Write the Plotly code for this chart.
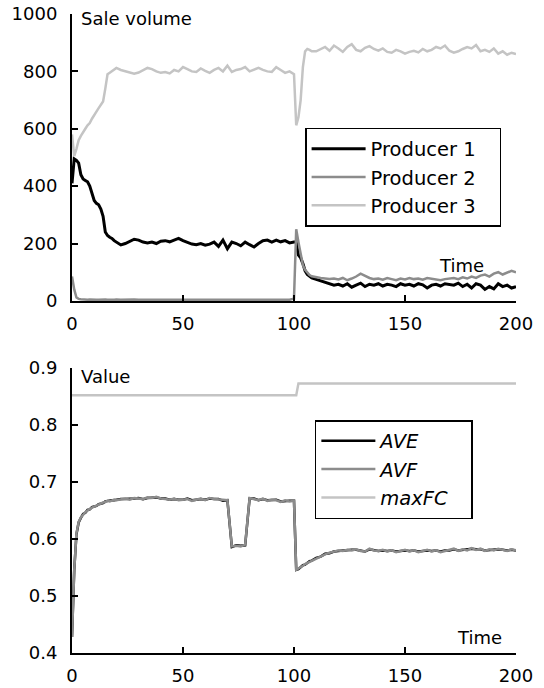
import plotly.graph_objects as go

# ---------------- data ----------------
time = [0, 1, 2, 3, 4, 5, 6, 7, 8, 9, 10, 11, 12, 13, 14, 15, 16, 17, 18, 19, 20,
        22, 24, 26, 28, 30, 32, 34, 36, 38, 40, 42, 44, 46, 48, 50, 52, 54, 56, 58, 60,
        62, 64, 66, 68, 70, 72, 74, 76, 78, 80, 82, 84, 86, 88, 90, 92, 94, 96, 98, 100,
        101, 102, 103, 104, 105, 106, 107, 108,
        110, 112, 114, 116, 118, 120, 122, 124, 126, 128, 130, 132, 134, 136, 138, 140,
        142, 144, 146, 148, 150, 152, 154, 156, 158, 160, 162, 164, 166, 168, 170, 172,
        174, 176, 178, 180, 182, 184, 186, 188, 190, 192, 194, 196, 198, 200]

producer1 = [410, 495, 490, 480, 440, 425, 420, 415, 400, 370, 350, 340, 335, 320, 295, 240, 228, 222, 218, 210, 205,
             195, 200, 208, 215, 212, 205, 202, 205, 200, 208, 210, 206, 212, 218, 210, 205, 198, 196, 200, 194,
             198, 205, 190, 212, 182, 205, 200, 192, 205, 196, 188, 200, 210, 212, 205, 212, 206, 210, 202, 205,
             205, 160, 150, 130, 105, 92, 85, 80,
             75, 70, 65, 60, 55, 58, 52, 60, 48, 55, 62, 50, 58, 55, 60, 52, 58, 55, 50, 60,
             55, 58, 52, 60, 56, 45, 55, 58, 52, 60, 57, 55, 62, 50, 58, 45, 60, 55, 40, 50,
             42, 60, 50, 55, 45, 50]

producer2 = [85, 40, 12, 7, 6, 5, 5, 4, 5, 4, 5, 4, 4, 5, 4, 5, 4, 5, 4, 4, 5,
             4, 5, 4, 5, 4, 4, 5, 4, 5, 4, 5, 4, 4, 5, 5, 4, 6, 4, 5, 4,
             4, 5, 4, 5, 4, 4, 5, 4, 5, 4, 5, 4, 5, 4, 5, 4, 4, 5, 4, 8,
             250, 205, 160, 125, 108, 98, 90, 86,
             82, 80, 78, 76, 78, 75, 80, 72, 78, 85, 95, 88, 80, 76, 78, 74, 80, 76, 72, 78,
             75, 80, 76, 78, 74, 80, 78, 75, 72, 76, 78, 80, 76, 82, 78, 85, 80, 88, 92, 85,
             95, 100, 92, 98, 105, 100]

producer3 = [580, 505, 530, 560, 575, 590, 600, 612, 620, 635, 650, 660, 672, 685, 695, 740, 790, 795, 800, 805, 812,
             805, 800, 795, 792, 796, 805, 812, 808, 800, 795, 798, 793, 805, 800, 815, 808, 800, 798, 810, 802,
             795, 805, 812, 800, 820, 798, 805, 808, 815, 800, 805, 812, 805, 800, 798, 815, 805, 795, 800, 790,
             612, 640, 700, 815, 870, 878, 875, 870,
             870, 878, 885, 872, 890, 880, 868, 885, 895, 875, 870, 882, 888, 878, 872, 880, 868, 865, 875, 870,
             862, 868, 872, 866, 878, 870, 875, 885, 880, 890, 872, 865, 870, 878, 885, 880, 892, 870, 875, 868,
             880, 862, 870, 858, 865, 860]

ave = [0.428, 0.545, 0.608, 0.629, 0.637, 0.644, 0.646, 0.651, 0.652, 0.656, 0.657, 0.658, 0.661, 0.662, 0.663, 0.666, 0.667, 0.667, 0.668, 0.668, 0.669,
       0.670, 0.670, 0.670, 0.671, 0.672, 0.670, 0.672, 0.672, 0.673, 0.671, 0.671, 0.669, 0.670, 0.669, 0.669, 0.671, 0.668, 0.669, 0.670, 0.669,
       0.671, 0.670, 0.670, 0.667, 0.668, 0.586, 0.589, 0.588, 0.589, 0.671, 0.671, 0.668, 0.670, 0.668, 0.669, 0.669, 0.666, 0.667, 0.667, 0.667,
       0.546, 0.547, 0.551, 0.554, 0.555, 0.558, 0.561, 0.562,
       0.567, 0.569, 0.574, 0.575, 0.578, 0.579, 0.580, 0.580, 0.581, 0.581, 0.580, 0.578, 0.582, 0.581, 0.579, 0.580, 0.579, 0.580, 0.578, 0.579,
       0.580, 0.579, 0.580, 0.578, 0.579, 0.580, 0.579, 0.580, 0.578, 0.580, 0.580, 0.582, 0.580, 0.581, 0.581, 0.583, 0.582, 0.582, 0.580, 0.581,
       0.581, 0.582, 0.581, 0.580, 0.581, 0.580]

avf = [0.428, 0.545, 0.610, 0.630, 0.638, 0.643, 0.647, 0.650, 0.653, 0.655, 0.657, 0.659, 0.660, 0.662, 0.664, 0.665, 0.667, 0.666, 0.668, 0.669, 0.668,
       0.670, 0.671, 0.669, 0.672, 0.671, 0.670, 0.673, 0.672, 0.674, 0.671, 0.670, 0.669, 0.671, 0.668, 0.669, 0.670, 0.667, 0.669, 0.671, 0.668,
       0.672, 0.670, 0.669, 0.668, 0.668, 0.587, 0.588, 0.587, 0.590, 0.672, 0.670, 0.668, 0.671, 0.667, 0.669, 0.668, 0.665, 0.668, 0.666, 0.667,
       0.546, 0.548, 0.551, 0.553, 0.556, 0.558, 0.560, 0.562,
       0.566, 0.570, 0.573, 0.576, 0.578, 0.580, 0.579, 0.581, 0.580, 0.582, 0.579, 0.578, 0.583, 0.580, 0.579, 0.581, 0.578, 0.580, 0.577, 0.579,
       0.581, 0.578, 0.580, 0.577, 0.579, 0.581, 0.578, 0.580, 0.577, 0.579, 0.581, 0.583, 0.579, 0.582, 0.580, 0.584, 0.581, 0.583, 0.579, 0.582,
       0.580, 0.583, 0.581, 0.579, 0.582, 0.580]

maxfc_time = [0, 101, 102, 200]
maxfc = [0.852, 0.852, 0.873, 0.873]

x_ticks = [0, 50, 100, 150, 200]
top_ticks = [0, 200, 400, 600, 800, 1000]
bottom_ticks = [0.4, 0.5, 0.6, 0.7, 0.8, 0.9]

# ---------------- figure ----------------
FONT = "DejaVu Sans"
BLACK = "#000000"
DARK_GRAY = "#8c8c8c"
LIGHT_GRAY = "#c4c4c4"
PAD = "\u00a0\u00a0\u00a0"  # right padding inside legend boxes

fig = go.Figure()

fig.add_trace(go.Scatter(x=time, y=producer1, name="Producer 1" + PAD, mode="lines",
                         line=dict(color=BLACK, width=3), xaxis="x", yaxis="y",
                         legend="legend", legendgroup="p1"))
fig.add_trace(go.Scatter(x=time, y=producer2, name="Producer 2" + PAD, mode="lines",
                         line=dict(color=DARK_GRAY, width=2.5), xaxis="x", yaxis="y",
                         legend="legend", legendgroup="p2"))
fig.add_trace(go.Scatter(x=time, y=producer3, name="Producer 3" + PAD, mode="lines",
                         line=dict(color=LIGHT_GRAY, width=2.5), xaxis="x", yaxis="y",
                         legend="legend", legendgroup="p3"))

fig.add_trace(go.Scatter(x=time, y=ave, name="<i>AVE</i>", mode="lines",
                         line=dict(color=BLACK, width=2.5), xaxis="x2", yaxis="y2",
                         legend="legend2", legendgroup="ave"))
fig.add_trace(go.Scatter(x=time, y=avf, name="<i>AVF</i>", mode="lines",
                         line=dict(color=DARK_GRAY, width=2.5), xaxis="x2", yaxis="y2",
                         legend="legend2", legendgroup="avf"))
fig.add_trace(go.Scatter(x=maxfc_time, y=maxfc, name="<i>maxFC</i>" + PAD, mode="lines",
                         line=dict(color=LIGHT_GRAY, width=2.5), xaxis="x2", yaxis="y2",
                         legend="legend2", legendgroup="mfc"))

axis_common = dict(showgrid=False, zeroline=False, showline=True, linecolor=BLACK,
                   linewidth=2, ticks="inside", ticklen=6, tickwidth=1.5, tickcolor=BLACK,
                   automargin=False,
                   tickfont=dict(family=FONT, size=18, color=BLACK))

fig.update_layout(
    width=544, height=688,
    margin=dict(l=72, r=28, t=14, b=35),
    paper_bgcolor="white", plot_bgcolor="white",
    font=dict(family=FONT, size=18, color=BLACK),
    xaxis=dict(domain=[0, 1], anchor="y", range=[0, 200], tickvals=x_ticks,
               ticklabelstandoff=5, **axis_common),
    yaxis=dict(domain=[0.551, 1], anchor="x", range=[0, 1000], tickvals=top_ticks,
               ticklabelstandoff=9, **axis_common),
    xaxis2=dict(domain=[0, 1], anchor="y2", range=[0, 200], tickvals=x_ticks,
                ticklabelstandoff=5, **axis_common),
    yaxis2=dict(domain=[0, 0.446], anchor="x2", range=[0.4, 0.9], tickvals=bottom_ticks,
                ticklabelstandoff=9, **axis_common),
    legend=dict(x=0.525, y=0.8216, xanchor="left", yanchor="top",
                bordercolor=BLACK, borderwidth=1.5, bgcolor="white",
                traceorder="grouped", tracegroupgap=0, itemwidth=54,
                font=dict(family=FONT, size=19.5, color=BLACK)),
    legend2=dict(x=0.547, y=0.3646, xanchor="left", yanchor="top",
                 bordercolor=BLACK, borderwidth=1.5, bgcolor="white",
                 traceorder="grouped", tracegroupgap=0, itemwidth=54,
                 font=dict(family=FONT, size=19.5, color=BLACK)),
    annotations=[
        dict(text="Sale volume", xref="paper", yref="paper", x=0.016, y=0.9937,
             xanchor="left", yanchor="middle", showarrow=False,
             font=dict(family=FONT, size=18, color=BLACK)),
        dict(text="Time", xref="paper", yref="paper", x=0.822, y=0.607,
             xanchor="left", yanchor="middle", showarrow=False,
             font=dict(family=FONT, size=18, color=BLACK)),
        dict(text="Value", xref="paper", yref="paper", x=0.016, y=0.432,
             xanchor="left", yanchor="middle", showarrow=False,
             font=dict(family=FONT, size=18, color=BLACK)),
        dict(text="Time", xref="paper", yref="paper", x=0.8626, y=0.0235,
             xanchor="left", yanchor="middle", showarrow=False,
             font=dict(family=FONT, size=18, color=BLACK)),
    ],
)

fig.write_html("out.html")
